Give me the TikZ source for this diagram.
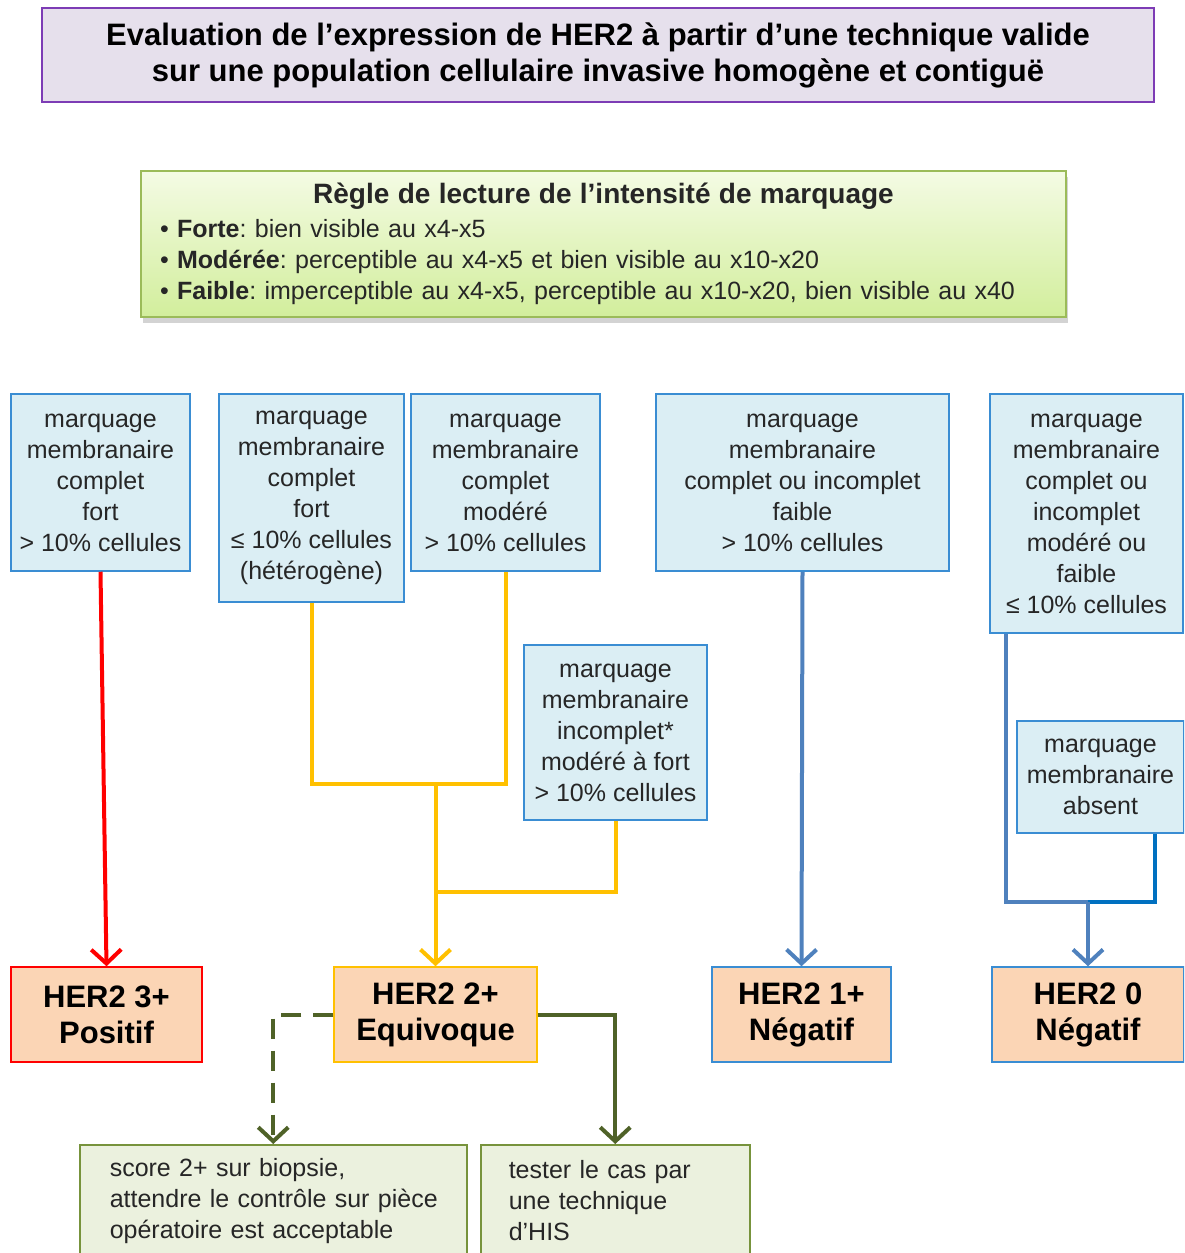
\documentclass[tikz,border=0pt]{standalone}
\usepackage{fontspec}
\setmainfont{Liberation Sans}
\usetikzlibrary{arrows.meta,shadows}
\definecolor{titleb}{HTML}{7D3CB5}
\definecolor{titlef}{HTML}{E6E0EC}
\definecolor{ruleb}{HTML}{9BBB59}
\definecolor{ruletop}{HTML}{F4FBE4}
\definecolor{rulebot}{HTML}{D2EE9C}
\definecolor{critb}{HTML}{3A8DD3}
\definecolor{critf}{HTML}{DBEEF4}
\definecolor{resf}{HTML}{FBD5B5}
\definecolor{yel}{HTML}{FFC000}
\definecolor{blu}{HTML}{4F81BD}
\definecolor{dblu}{HTML}{0070C0}
\definecolor{grn}{HTML}{4F6228}
\definecolor{actb}{HTML}{77933C}
\definecolor{actf}{HTML}{EBF1DE}
\definecolor{txt}{HTML}{262626}
\frenchspacing
\begin{document}
\begin{tikzpicture}[x=1pt,y=-1pt,
  crit/.style={draw=critb, fill=critf, line width=1.5pt, align=center,
    font=\fontsize{25}{31}\selectfont, text=txt, inner sep=0pt},
  res/.style={fill=resf, line width=1.5pt, align=center,
    font=\fontsize{31}{36}\selectfont\bfseries, inner sep=0pt,
    minimum height=95pt},
  act/.style={draw=actb, fill=actf, line width=1.5pt, align=left,
    font=\fontsize{25}{31}\selectfont, text=txt, anchor=north west,
    minimum height=112pt},
  conn/.style={line width=4pt},
  tip/.style={-{Straight Barb[length=14pt,width=30pt]}}
]
\useasboundingbox (0,0) rectangle (1184,1253);
\clip (0,0) rectangle (1184,1253);

% title
\node[draw=titleb, fill=titlef, line width=2pt, minimum width=1112pt,
  minimum height=94pt, align=center, inner sep=0pt,
  font=\fontsize{31}{36}\selectfont\bfseries] (title) at (598,55)
  {Evaluation de l’expression de HER2 à partir d’une technique valide\\
   sur une population cellulaire invasive homogène et contiguë};

% reading rule
\node[draw=ruleb, line width=1.5pt, top color=ruletop, bottom color=rulebot,
  drop shadow={shadow xshift=2pt, shadow yshift=-6pt, opacity=0.35, fill=gray},
  minimum width=925pt, minimum height=146pt, text width=887pt, inner sep=0pt,
  align=left, font=\fontsize{25}{31}\selectfont, text=txt] (rule) at (603.5,244)
  {\makebox[\linewidth]{\fontsize{28}{31}\selectfont\bfseries Règle de lecture de l’intensité de marquage}\\[3pt]
   • \textbf{Forte}: bien visible au x4-x5\\
   • \textbf{Modérée}: perceptible au x4-x5 et bien visible au x10-x20\\
   • \textbf{Faible}: imperceptible au x4-x5, perceptible au x10-x20, bien visible au x40};

% criteria
\node[crit, minimum width=179pt, minimum height=177pt] (b1) at (100.5,482.5)
  {marquage\\membranaire\\complet\\fort\\> 10\% cellules};
\node[crit, minimum width=185pt, minimum height=208pt] (b2) at (311.5,498)
  {marquage\\membranaire\\complet\\fort\\≤ 10\% cellules\\(hétérogène)};
\node[crit, minimum width=189pt, minimum height=177pt] (b3) at (505.5,482.5)
  {marquage\\membranaire\\complet\\modéré\\> 10\% cellules};
\node[crit, minimum width=293pt, minimum height=177pt] (b4) at (802.5,482.5)
  {marquage\\membranaire\\complet ou incomplet\\faible\\> 10\% cellules};
\node[crit, minimum width=193pt, minimum height=239pt] (b5) at (1086.5,513.5)
  {marquage\\membranaire\\complet ou\\incomplet\\modéré ou\\faible\\≤ 10\% cellules};
\node[crit, minimum width=183pt, minimum height=175pt] (b6) at (615.5,732.5)
  {marquage\\membranaire\\incomplet*\\modéré à fort\\> 10\% cellules};
\node[crit, minimum width=167pt, minimum height=112pt] (b7) at (1100.5,777)
  {marquage\\membranaire\\absent};

% results
\node[res, draw=red, minimum width=191pt] (r1) at (106.5,1014.5) {HER2 3+\\Positif};
\node[res, draw=yel, minimum width=203pt] (r2) at (435.5,1014.5) {HER2 2+\\Equivoque};
\node[res, draw=critb, minimum width=179pt] (r3) at (801.5,1014.5) {HER2 1+\\Négatif};
\node[res, draw=critb, minimum width=192pt] (r4) at (1088,1014.5) {HER2 0\\Négatif};

% actions
\node[act, minimum width=387pt, inner xsep=30pt, text width=327pt] (g1) at (79,1144)
  {\mbox{score 2+ sur biopsie,}\\\mbox{attendre le contrôle sur pièce}\\\mbox{opératoire est acceptable}};
\node[act, minimum width=269pt, inner xsep=28pt, text width=213pt] (g2) at (480,1144)
  {tester le cas par\\une technique\\d’HIS};

% connectors
\coordinate (y1) at (435.5,784);
\coordinate (y2) at (435.5,892);
\coordinate (z0) at (1088,902);

\draw[conn, red, tip] (b1.south) -- (r1.north);

\draw[conn, yel] (b2.south) |- (b3.south |- y1) -- (b3.south);
\draw[conn, yel] (b6.south) |- (y2);
\draw[conn, yel, tip] (y1) -- (r2.north);

\draw[conn, blu, tip] (b4.south) -- (r3.north);

\draw[conn, blu] ([xshift=17pt]b5.south west) |- (z0);
\draw[conn, dblu] ([xshift=-30pt]b7.south east) |- (z0);
\draw[conn, blu, tip] (z0) -- (r4.north);

\draw[conn, grn, dash pattern=on 20pt off 12pt, tip] (r2.west) -| (g1.north);
\draw[conn, grn, tip] (r2.east) -| (g2.north);
\end{tikzpicture}
\end{document}
